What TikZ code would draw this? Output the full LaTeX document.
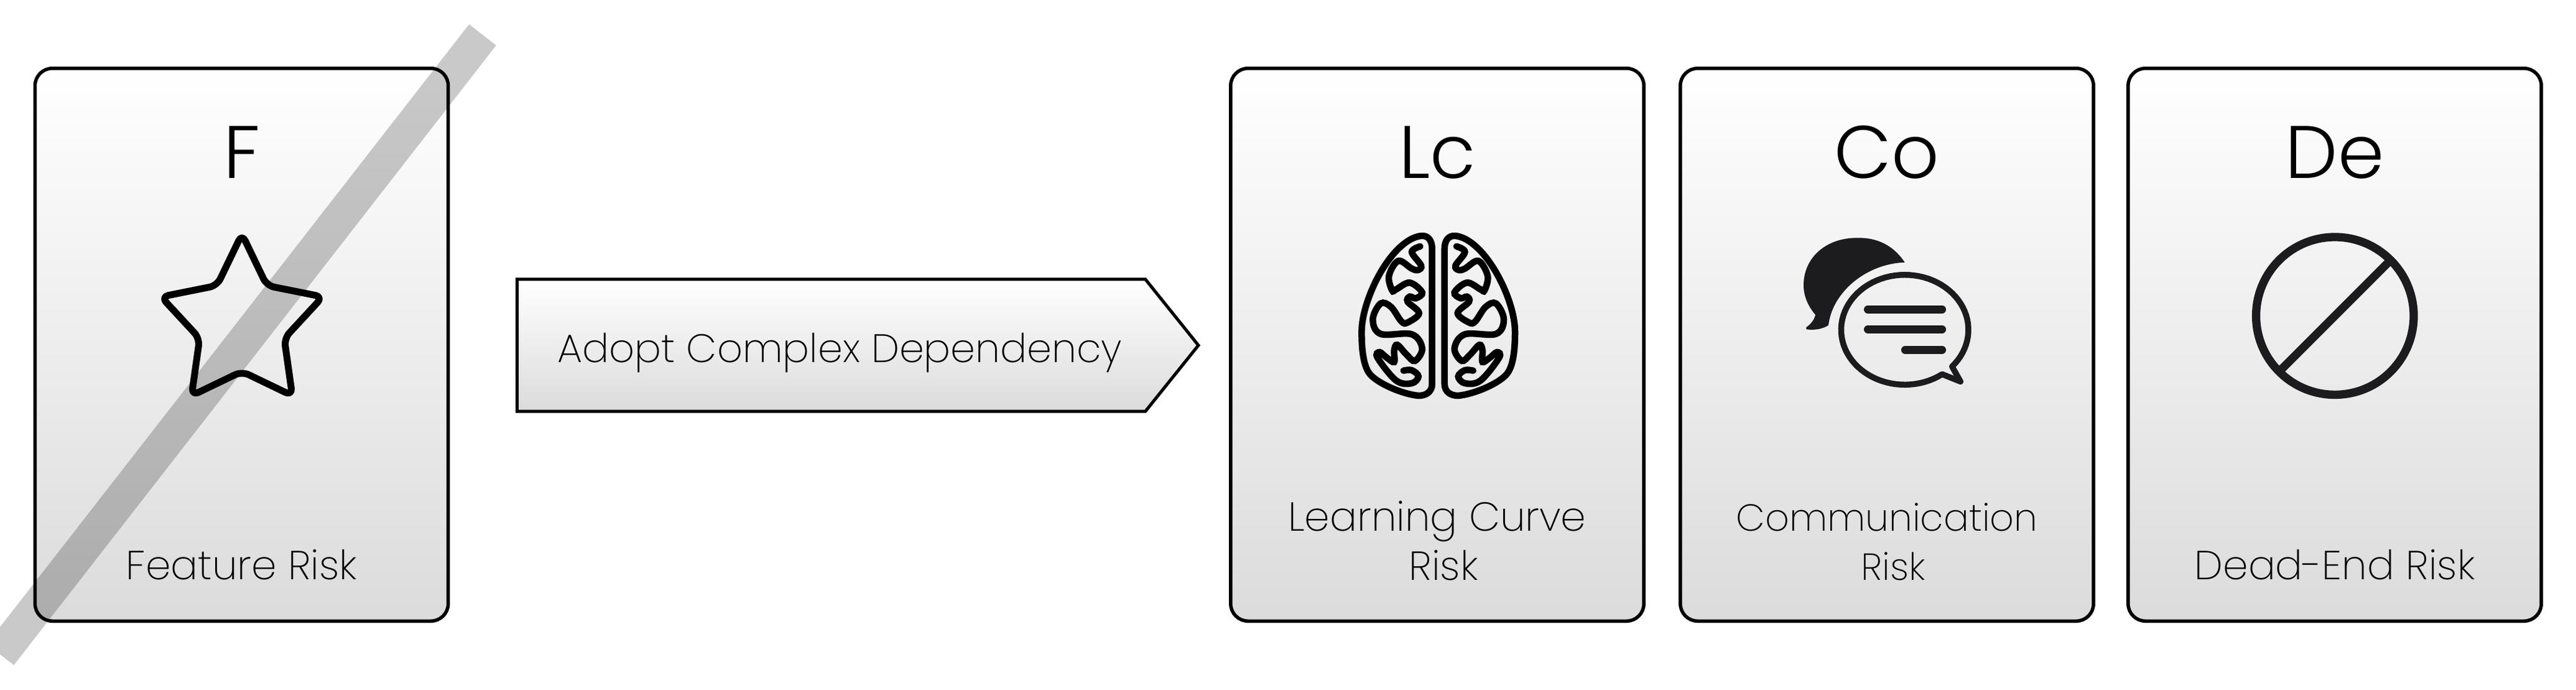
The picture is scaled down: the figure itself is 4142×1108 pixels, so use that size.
\documentclass[tikz,border=0pt]{standalone}
\usepackage{fontspec}
\setmainfont{Poppins ExtraLight}
\newfontfamily\titlefont{Poppins Light}
\usetikzlibrary{positioning,shapes.symbols,arrows.meta}
\definecolor{iconcolor}{RGB}{28,27,29}
\tikzset{
    riskcard/.style={draw, line width=0.055cm, top color=white, bottom color=black!14, minimum width=6.64cm, minimum height=8.88cm, rounded corners=0.28cm, inner sep=0},
    risktitle/.style={anchor=base, font=\titlefont\fontsize{34}{34}\selectfont},
    risklabel/.style={anchor=base, align=center, font=\fontsize{18.5}{22.4}\selectfont},
    slashband/.style={draw=black, opacity=0.21, line width=0.55cm},
    iconline/.style={draw=iconcolor, line width=0.095cm, line cap=round, line join=round}
}

\begin{document}
\begin{tikzpicture}[x=0.01cm, y=-0.01cm]
    \useasboundingbox (0,0) rectangle (4142,1108);

    % Feature risk card
    \node[riskcard] (featurecard) at (388.5,554) {};
    \node[risktitle] (featuretitle) at (388.5,286) {F};
    \node[risklabel] (featurelabel) at (388.5,931) {Feature Risk};
    \draw[draw=black, line width=0.11cm, rounded corners=0.12cm, line join=round]
        (389,376) -- (429,459) -- (519,477) -- (457,544) -- (470,636) -- (389,597)
        -- (308,636) -- (321,544) -- (259,477) -- (349,459) -- cycle;

    % Action arrow
    \node[signal, signal to=east, signal pointer angle=102.5, draw, line width=0.05cm, top color=white, bottom color=black!14, minimum width=10.95cm, minimum height=2.12cm, inner sep=0, text height=0.7cm, text depth=0.146cm, font=\fontsize{18.15}{22}\selectfont] (adopt) at (1336.5,555) {\hspace*{0.28cm}Adopt Complex Dependency};

    % Learning curve card
    \node[riskcard] (learningcard) at (2311,554) {};
    \node[risktitle] (learningtitle) at (2311,286) {Lc};
    \node[risklabel, anchor=south] (learninglabel) at (2311,945) {Learning Curve\\\hspace*{0.2cm}Risk};
    \foreach \side in {1,-1} {
        \begin{scope}[shift={(2312.7,330)}, xscale=\side]
            \draw[draw=black, line width=0.105cm, line join=round]
                (-10,70) -- (-10,287) .. controls (-10,300) and (-20,306) .. (-32,306)
                .. controls (-60,303) and (-100,285) .. (-111,270)
                .. controls (-122,255) and (-123.3,225) .. (-123.3,203.3)
                .. controls (-123.3,150) and (-75,55) .. (-27.7,49)
                .. controls (-16,48) and (-10,57) .. (-10,70) -- cycle;
            \draw[draw=black, line width=0.105cm, line cap=round] plot[smooth, tension=0.6] coordinates {
                (-29.3,66) (-42.7,75) (-27.7,96.7) (-32.7,104) (-42.7,101.7) (-64.3,89.3)
                (-79.3,113.3) (-74.3,136.7) (-67.7,135) (-46,124.3) (-26,140) (-36,149.3)
                (-46,146.7) (-49.3,155) (-31,173.3) (-49.3,188.3) (-59.3,186.7) (-76,163.3)
                (-92.7,157.7) (-105.3,183.3) (-92.7,206.7) (-42.7,207.3) (-26,230) (-37.7,250)
                (-51,240) (-66,224.3) (-71,233.3) (-71,251.7) (-82.7,245) (-94.3,236)
                (-97.7,245) (-67.7,281.7) (-42.7,286) (-32,275) (-42.7,265) (-56,265.7)};
        \end{scope}
    }

    % Communication risk card
    \node[riskcard] (commcard) at (3034,554) {};
    \node[risktitle] (commtitle) at (3034,286) {Co};
    \node[risklabel, anchor=south, font=\fontsize{17.2}{22.4}\selectfont] (commlabel) at (3034,945) {Communication\\\hspace*{0.2cm}Risk};
    \fill[iconcolor] (3062.7,421.7) .. controls (3040,388) and (3010,382) .. (2986.7,382.3)
        .. controls (2935,382) and (2900,415) .. (2900,458.3)
        .. controls (2900,477) and (2908,493) .. (2919,506)
        .. controls (2917,515) and (2911,521) .. (2904.5,526)
        .. controls (2903,528) and (2904,529) .. (2906,529.5)
        .. controls (2920,531) and (2932,528) .. (2940,522.7)
        .. controls (2946,470) and (3000,424) .. (3062.7,421.7) -- cycle;
    \draw[iconline] plot[domain=54:402, samples=80] ({3062.7+102.3*cos(\x)}, {530+88.3*sin(\x)}) -- (3152.3,613.3) -- cycle;
    \draw[iconline, line width=0.127cm] (3003.3,497.3) -- (3122.7,497.3);
    \draw[iconline, line width=0.127cm] (3003.3,529.3) -- (3122.7,529.3);
    \draw[iconline, line width=0.127cm] (3063.3,562.3) -- (3122.7,562.3);

    % Dead-end risk card
    \node[riskcard] (deadcard) at (3754,554) {};
    \node[risktitle] (deadtitle) at (3754,286) {De};
    \node[risklabel] (deadlabel) at (3754,931) {Dead-End Risk};
    \node[circle, draw=iconcolor, line width=0.133cm, minimum size=2.533cm, inner sep=0, outer sep=0] (nogo) at (3754.3,507.7) {};
    \draw[draw=iconcolor, line width=0.133cm] (nogo.45) -- (nogo.225);

    % Crossing out
    \coordinate (slashtop) at (776,56);
    \coordinate (slashend) at (0.5,1052);
    \draw[slashband] (slashtop) -- (slashend);
\end{tikzpicture}
\end{document}
